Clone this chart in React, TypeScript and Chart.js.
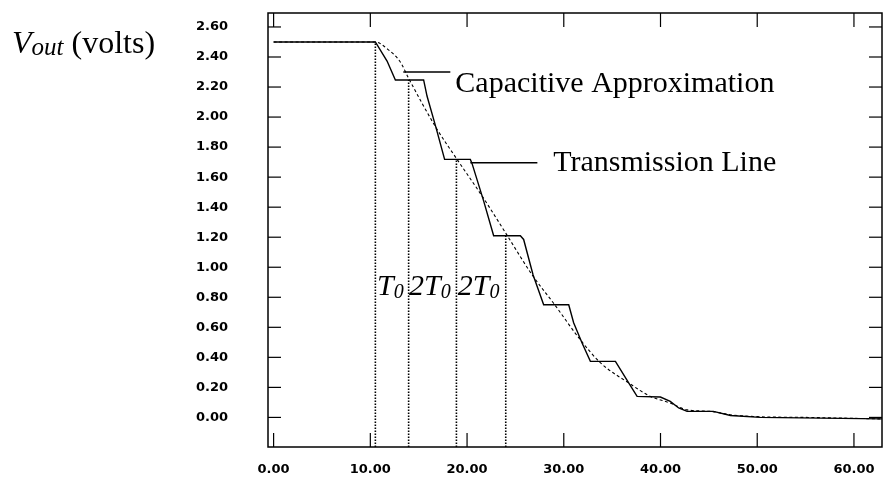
import React, { useEffect, useRef } from "react";
import { Chart, registerables } from "chart.js";

Chart.register(...registerables);

// Transmission line response: staircase of reflections (time in ns, volts)
const lineTimes = [0, 10.52, 11.73, 12.59, 15.51, 15.86, 16.79, 17.68, 20.34, 20.52, 21.72, 22.75, 25.51, 25.85, 26.82, 27.92, 30.51, 31.02, 31.89, 32.75, 35.34, 36.71, 37.58, 39.99, 41.01, 41.88, 42.75, 45.47, 47.23, 50.33, 62.9];
const lineVolts = [2.5, 2.5, 2.373, 2.247, 2.247, 2.14, 1.93, 1.718, 1.718, 1.69, 1.44, 1.21, 1.21, 1.185, 0.95, 0.75, 0.75, 0.63, 0.496, 0.373, 0.373, 0.23, 0.14, 0.136, 0.107, 0.063, 0.04, 0.04, 0.013, 0.0, -0.01];

// Lumped capacitive approximation
const capTimes = [0, 10.52, 11.73, 13.1, 13.96, 16.79, 18.97, 21.7, 23.97, 26.72, 28.95, 31.7, 33.8, 36.7, 38.96, 41.0, 42.75, 45.2, 47.2, 50, 55, 62.9];
const capVolts = [2.5, 2.5, 2.455, 2.367, 2.258, 1.93, 1.718, 1.46, 1.23, 0.95, 0.76, 0.518, 0.363, 0.23, 0.14, 0.096, 0.05, 0.04, 0.018, 0.005, 0, -0.01];

// Dotted time markers (T0, 2T0, 2T0 intervals)
const markerTimes = [10.52, 13.96, 18.9, 24.0];
const markerVolts = [2.5, 2.247, 1.718, 1.21];

// Axis ticks
const xTickValues = [0, 10, 20, 30, 40, 50, 60];
const yTickValues = [0, 0.2, 0.4, 0.6, 0.8, 1.0, 1.2, 1.4, 1.6, 1.8, 2.0, 2.2, 2.4, 2.6];

const X_MIN = -0.58;
const X_MAX = 62.9;
const Y_MIN = -0.197;
const Y_MAX = 2.693;

type Part = { text: string; italic?: boolean; size: number; dy?: number };

function drawRich(ctx: CanvasRenderingContext2D, x: number, y: number, parts: Part[]) {
  let cx = x;
  for (const p of parts) {
    ctx.font = `${p.italic ? "italic " : ""}${p.size}px "Liberation Serif"`;
    ctx.fillText(p.text, cx, y + (p.dy || 0));
    cx += ctx.measureText(p.text).width;
  }
}

const framePlugin = {
  id: "frameTicks",
  afterDatasetsDraw(chart: any) {
    const { ctx, chartArea: a, scales } = chart;
    ctx.save();
    ctx.strokeStyle = "#000";
    ctx.lineWidth = 1.5;
    ctx.strokeRect(a.left, a.top, a.right - a.left, a.bottom - a.top);
    ctx.lineWidth = 1.2;
    const seg = (x1: number, y1: number, x2: number, y2: number) => {
      ctx.beginPath();
      ctx.moveTo(x1, y1);
      ctx.lineTo(x2, y2);
      ctx.stroke();
    };
    for (const v of yTickValues) {
      const py = scales.y.getPixelForValue(v);
      seg(a.left, py, a.left + 13, py);
      seg(a.right, py, a.right - 13, py);
    }
    for (const v of xTickValues) {
      const px = scales.x.getPixelForValue(v);
      seg(px, a.bottom, px, a.bottom - 14);
      seg(px, a.top, px, a.top + 14);
    }
    ctx.restore();
  },
};

const labelPlugin = {
  id: "labels",
  afterDraw(chart: any) {
    const { ctx, scales } = chart;
    const sx = (v: number) => scales.x.getPixelForValue(v);
    const sy = (v: number) => scales.y.getPixelForValue(v);
    ctx.save();
    ctx.fillStyle = "#000";
    ctx.strokeStyle = "#000";
    ctx.textBaseline = "alphabetic";
    ctx.textAlign = "left";

    // axis title
    drawRich(ctx, 12, 53, [
      { text: "V", italic: true, size: 32 },
      { text: "out", italic: true, size: 25, dy: 2 },
      { text: " (volts)", size: 32 },
    ]);

    // leader lines
    ctx.lineWidth = 1.5;
    ctx.beginPath();
    ctx.moveTo(sx(13.41), sy(2.3));
    ctx.lineTo(sx(18.27), sy(2.3));
    ctx.moveTo(sx(20.34), sy(1.695));
    ctx.lineTo(sx(27.27), sy(1.695));
    ctx.stroke();

    drawRich(ctx, sx(18.79), sy(2.3) + 20, [{ text: "Capacitive Approximation", size: 30 }]);
    drawRich(ctx, sx(28.9), sy(1.695) + 8, [{ text: "Transmission Line", size: 30 }]);

    // interval labels
    const base = sy(0.815);
    drawRich(ctx, sx(10.7), base, [
      { text: "T", italic: true, size: 30 },
      { text: "0", italic: true, size: 20, dy: 3 },
    ]);
    drawRich(ctx, sx(14.0), base, [
      { text: "2T", italic: true, size: 30 },
      { text: "0", italic: true, size: 20, dy: 3 },
    ]);
    drawRich(ctx, sx(19.05), base, [
      { text: "2T", italic: true, size: 30 },
      { text: "0", italic: true, size: 20, dy: 3 },
    ]);
    ctx.restore();
  },
};

// keep the plot frame at fixed pixel offsets regardless of tick label padding
const clearPadding = (s: any) => {
  s.paddingTop = 0;
  s.paddingBottom = 0;
  s.paddingLeft = 0;
  s.paddingRight = 0;
};

export default function App() {
  const ref = useRef<HTMLCanvasElement | null>(null);

  useEffect(() => {
    if (!ref.current) return;
    const markerSets = markerTimes.map((t, i) => ({
      label: `marker${i}`,
      data: [
        { x: t, y: Y_MIN },
        { x: t, y: markerVolts[i] },
      ],
      borderColor: "#000",
      borderWidth: 1.6,
      borderDash: [1.5, 1.5],
      pointRadius: 0,
      fill: false,
    }));

    const tickFont = { family: "DejaVu Sans", size: 13, weight: "bold" };

    const chart = new Chart(ref.current, {
      type: "line",
      data: {
        datasets: [
          {
            label: "Transmission Line",
            data: lineTimes.map((t, i) => ({ x: t, y: lineVolts[i] })),
            borderColor: "#000",
            borderWidth: 1.4,
            pointRadius: 0,
            tension: 0,
            fill: false,
          },
          {
            label: "Capacitive Approximation",
            data: capTimes.map((t, i) => ({ x: t, y: capVolts[i] })),
            borderColor: "#000",
            borderWidth: 1.1,
            borderDash: [3, 2.5],
            pointRadius: 0,
            cubicInterpolationMode: "monotone",
            fill: false,
          },
          ...markerSets,
        ],
      },
      options: {
        responsive: false,
        animation: false,
        events: [],
        layout: { padding: { top: 13, right: 3, left: 0, bottom: 0 } },
        plugins: {
          legend: { display: false },
          tooltip: { enabled: false },
        },
        scales: {
          x: {
            type: "linear",
            min: X_MIN,
            max: X_MAX,
            grid: { display: false, drawTicks: false },
            border: { display: false },
            afterBuildTicks: (s: any) => {
              s.ticks = xTickValues.map((v) => ({ value: v }));
            },
            afterFit: (s: any) => {
              s.height = 40;
              clearPadding(s);
            },
            ticks: {
              padding: 15,
              maxRotation: 0,
              autoSkip: false,
              color: "#000",
              font: tickFont,
              callback: (v: any) => Number(v).toFixed(2),
            },
          },
          y: {
            type: "linear",
            min: Y_MIN,
            max: Y_MAX,
            grid: { display: false, drawTicks: false },
            border: { display: false },
            afterBuildTicks: (s: any) => {
              s.ticks = yTickValues.map((v) => ({ value: v }));
            },
            afterFit: (s: any) => {
              s.width = 268;
              clearPadding(s);
            },
            ticks: {
              padding: 40,
              autoSkip: false,
              color: "#000",
              font: tickFont,
              callback: (v: any) => Number(v).toFixed(2),
            },
          },
        },
      },
      plugins: [framePlugin, labelPlugin],
    } as any);
    return () => chart.destroy();
  }, []);

  return (
    <div style={{ position: "absolute", left: 0, top: 0, width: 885, height: 487, background: "#fff" }}>
      <canvas ref={ref} width={885} height={487} />
    </div>
  );
}
